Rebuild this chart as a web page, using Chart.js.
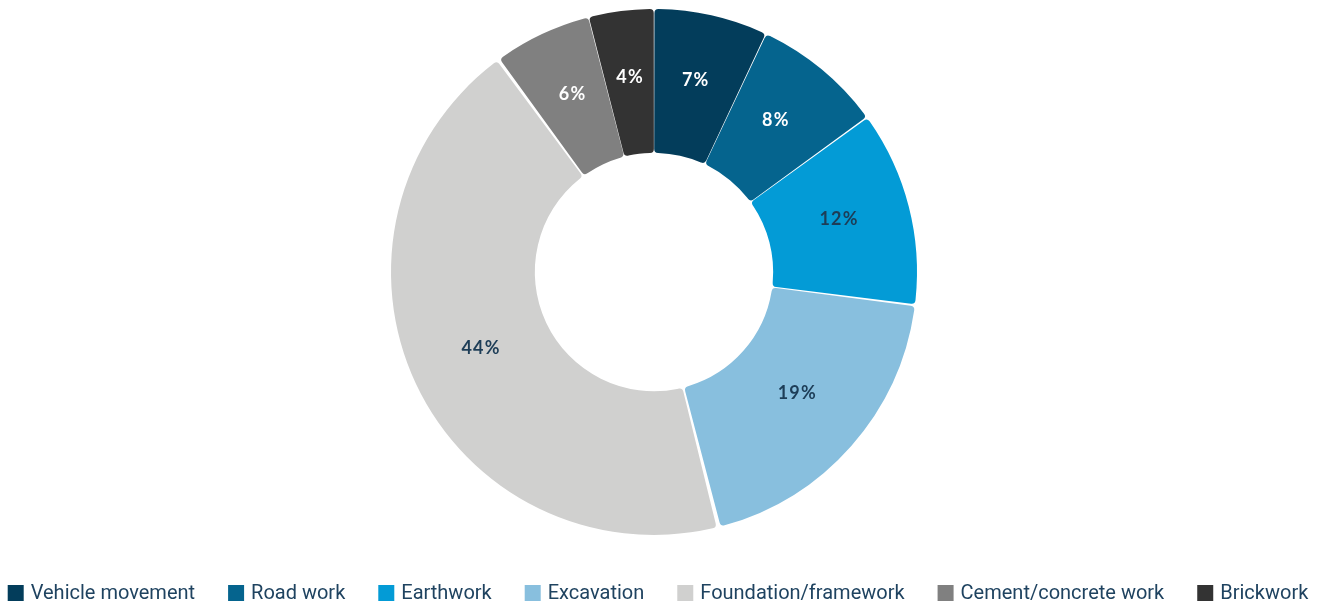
<!DOCTYPE html>
<html>
<head>
<meta charset="utf-8">
<script src="https://cdn.jsdelivr.net/npm/chart.js@4/dist/chart.umd.min.js"></script>
<style>
  html, body { margin: 0; padding: 0; background: #ffffff; }
  #wrap { width: 1320px; height: 605px; position: relative; }
</style>
</head>
<body>
<div id="wrap"><canvas id="c"></canvas></div>
<script>
// Share of incidents by construction activity (%)
const categories = [
  'Vehicle movement',
  'Road work',
  'Earthwork',
  'Excavation',
  'Foundation/framework',
  'Cement/concrete work',
  'Brickwork'
];
const shares = [7, 8, 12, 19, 44, 6, 4];
const sliceColors = ['#033d5b', '#05648e', '#039bd6', '#88bfde', '#d0d0cf', '#808080', '#333333'];
const labelColors = ['#ffffff', '#ffffff', '#1d3d57', '#1d3d57', '#1d3d57', '#ffffff', '#ffffff'];

// Writes each slice's percentage at the middle of its arc
const sliceLabels = {
  id: 'sliceLabels',
  afterDatasetsDraw(chart) {
    const ctx = chart.ctx;
    const meta = chart.getDatasetMeta(0);
    ctx.save();
    ctx.font = '700 18px Lato';
    ctx.letterSpacing = '1.2px';
    ctx.textAlign = 'center';
    ctx.textBaseline = 'middle';
    meta.data.forEach((arc, i) => {
      const p = arc.tooltipPosition();
      ctx.fillStyle = labelColors[i];
      ctx.fillText(shares[i] + '%', p.x, p.y - 5);
    });
    ctx.restore();
  }
};

// Single-row legend along the bottom, built from the chart's own legend items
const bottomLegend = {
  id: 'bottomLegend',
  afterDraw(chart) {
    const ctx = chart.ctx;
    const items = chart.options.plugins.legend.labels.generateLabels(chart);
    const box = 16, textGap = 7, itemGap = 33;
    ctx.save();
    ctx.font = '20px Roboto';
    ctx.textBaseline = 'middle';
    ctx.textAlign = 'left';
    const widths = items.map(it => box + textGap + ctx.measureText(it.text).width);
    const total = widths.reduce((a, b) => a + b, 0) + itemGap * (items.length - 1);
    let x = (chart.width - total) / 2 - 2;
    const boxTop = 585;
    items.forEach((it, i) => {
      ctx.fillStyle = it.fillStyle;
      ctx.fillRect(x, boxTop, box, box);
      ctx.fillStyle = '#1f4360';
      ctx.fillText(it.text, x + box + textGap, boxTop + box / 2 + 1);
      x += widths[i] + itemGap;
    });
    ctx.restore();
  }
};

new Chart(document.getElementById('c'), {
  type: 'doughnut',
  data: {
    labels: categories,
    datasets: [{
      data: shares,
      backgroundColor: sliceColors,
      borderWidth: 0,
      spacing: 3,
      borderRadius: 4
    }]
  },
  options: {
    responsive: true,
    maintainAspectRatio: false,
    animation: false,
    cutout: '45%',
    layout: { padding: { top: 9, bottom: 70, left: 0, right: 12 } },
    plugins: {
      tooltip: { enabled: false },
      legend: { display: false }
    }
  },
  plugins: [sliceLabels, bottomLegend]
});
</script>
</body>
</html>
